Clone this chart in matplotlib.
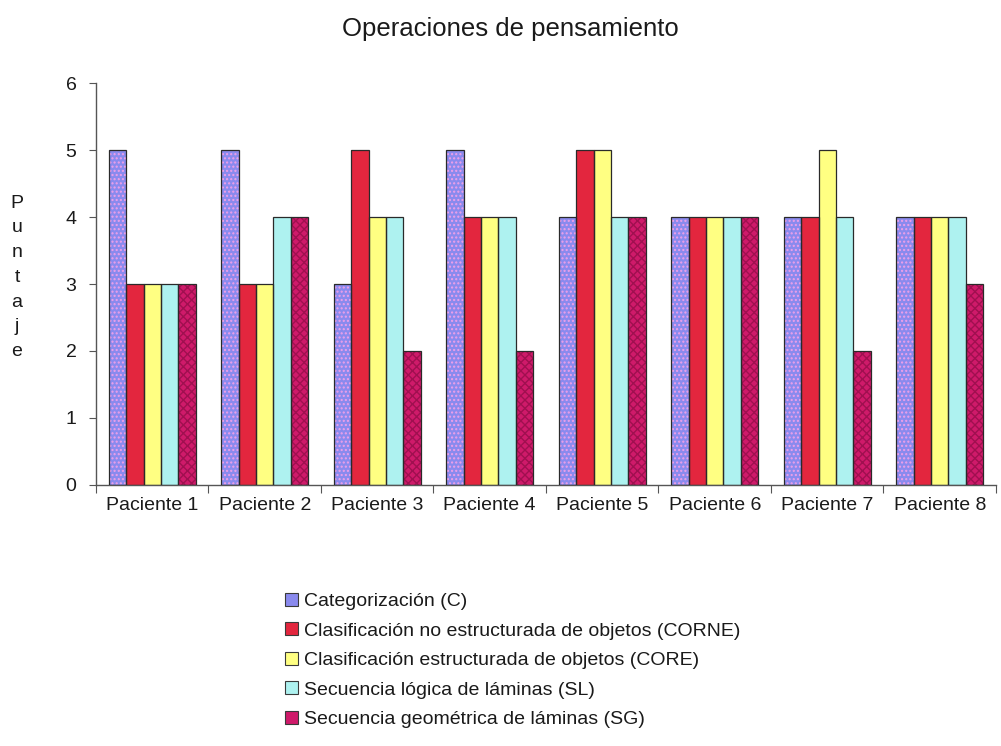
# Gráfico de barras agrupadas: operaciones de pensamiento por paciente
import numpy as np
import matplotlib.pyplot as plt
from matplotlib.patches import Patch

plt.rcParams['font.family'] = ['Liberation Sans', 'DejaVu Sans']

# Datos
pacientes = ['Paciente 1', 'Paciente 2', 'Paciente 3', 'Paciente 4',
             'Paciente 5', 'Paciente 6', 'Paciente 7', 'Paciente 8']
series = ['Categorización (C)',
          'Clasificación no estructurada de objetos (CORNE)',
          'Clasificación estructurada de objetos (CORE)',
          'Secuencia lógica de láminas (SL)',
          'Secuencia geométrica de láminas (SG)']
c_vals = [5, 5, 3, 5, 4, 4, 4, 4]
corne_vals = [3, 3, 5, 4, 5, 4, 4, 4]
core_vals = [3, 3, 4, 4, 5, 4, 5, 4]
sl_vals = [3, 4, 4, 4, 4, 4, 4, 4]
sg_vals = [3, 4, 2, 2, 4, 4, 2, 3]
valores = [c_vals, corne_vals, core_vals, sl_vals, sg_vals]

# Colores (relleno, color de la trama, trama)
relleno = ['#8a8aee', '#e3263e', '#ffff82', '#aef2f0', '#cf1a6a']
trama_color = ['#f0a0e8', '#e3263e', '#ffff82', '#aef2f0', '#a01050']
trama = ['....', None, None, None, 'xxxx']

fig = plt.figure(figsize=(10.01, 7.46), dpi=100)
ax = fig.add_axes([0.0959, 0.3499, 0.8991, 0.5388])

x = np.arange(len(pacientes))
ancho = 0.155
inicio = 0.5 - 2 * ancho
handles = []
for i, vals in enumerate(valores):
    pos = x + inicio + i * ancho
    ax.bar(pos, vals, width=ancho, color=relleno[i], edgecolor=trama_color[i],
           hatch=trama[i], linewidth=0, zorder=2)
    ax.bar(pos, vals, width=ancho, fill=False, edgecolor='#2a2a2a',
           linewidth=0.9, zorder=3)
    handles.append(Patch(facecolor=relleno[i], edgecolor='#3a3a3a', linewidth=0.8))

ax.set_xlim(0, len(pacientes))
ax.set_ylim(0, 6)
ax.set_yticks(range(7))
ax.set_xticks(range(len(pacientes) + 1))
ax.set_xticklabels([])
ax.set_xticks(x + 0.5, minor=True)
ax.set_xticklabels(pacientes, minor=True)
ax.tick_params(axis='x', which='minor', length=0, pad=9, labelsize=14, labelcolor='#1a1a1a')
ax.tick_params(axis='x', which='major', length=6, direction='out', color='#555555')
ax.tick_params(axis='y', length=5, direction='out', pad=9, labelsize=14,
               color='#555555', labelcolor='#1a1a1a')
for lado in ['top', 'right']:
    ax.spines[lado].set_visible(False)
for lado in ['left', 'bottom']:
    ax.spines[lado].set_color('#555555')
    ax.spines[lado].set_linewidth(1.0)

fig.text(0.51, 0.961, 'Operaciones de pensamiento', ha='center', va='center',
         fontsize=18.5, color='#1a1a1a')

# Etiqueta del eje Y con letras apiladas
for k, letra in enumerate('Puntaje'):
    fig.text(0.017, 1 - (203 + k * 24.8) / 746, letra, ha='center', va='center',
             fontsize=14, color='#1a1a1a')

leg = fig.legend(handles, series, loc='upper left', bbox_to_anchor=(0.285, 0.205),
                 frameon=False, fontsize=14, handlelength=0.65, handleheight=0.65,
                 handletextpad=0.3, labelspacing=0.62, borderpad=0, borderaxespad=0)
for t in leg.get_texts():
    t.set_color('#1a1a1a')

fig.savefig('out.png', dpi=100)
